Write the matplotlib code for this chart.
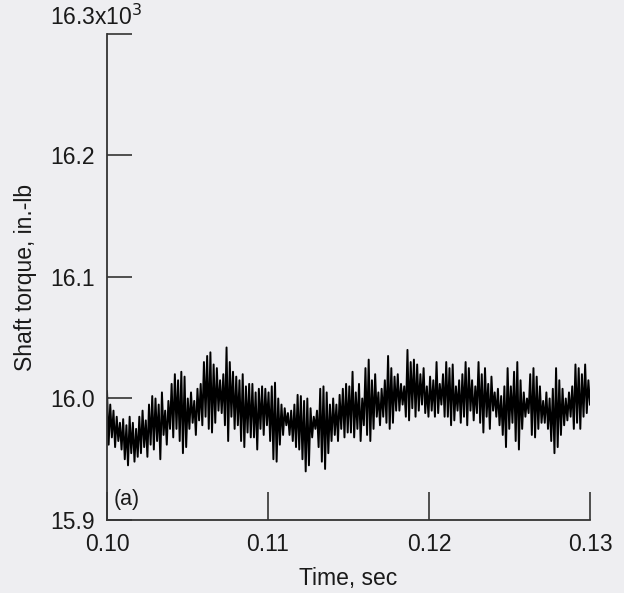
# Shaft torque vs time, figure (a)
import numpy as np
import matplotlib
matplotlib.use('Agg')
import matplotlib.pyplot as plt

plt.rcParams['font.family'] = ['Liberation Sans', 'DejaVu Sans']

# ---------------------------- data (torque in 10^3 in.-lb)
t_start = 0.100
t_end = 0.130

torque = [
    16.006, 15.962, 15.995, 15.968, 15.990, 15.960, 15.985, 15.965, 15.980, 15.958,
    15.983, 15.950, 15.978, 15.945, 15.985, 15.955, 15.980, 15.948, 15.975, 15.952,
    15.985, 15.955, 15.990, 15.960, 15.982, 15.952, 15.995, 15.962, 16.002, 15.958,
    16.000, 15.965, 15.995, 15.950, 16.005, 15.970, 15.990, 15.962, 15.998, 15.975,
    16.012, 15.968, 16.020, 15.975, 16.015, 15.965, 16.022, 15.955, 16.018, 15.960,
    16.000, 15.975, 16.005, 15.980, 15.998, 15.970, 16.008, 15.982, 16.012, 15.978,
    16.030, 15.985, 16.035, 15.975, 16.038, 15.972, 16.028, 15.980, 16.025, 15.990,
    16.015, 15.988, 16.020, 15.978, 16.042, 15.965, 16.030, 15.985, 16.022, 15.975,
    16.018, 15.978, 16.015, 15.965, 16.020, 15.960, 16.010, 15.972, 16.012, 15.968,
    16.012, 15.968, 16.005, 15.958, 16.008, 15.975, 16.010, 15.970, 16.008, 15.978,
    16.005, 15.965, 16.010, 15.950, 16.013, 15.948, 16.000, 15.962, 15.995, 15.970,
    15.992, 15.978, 15.988, 15.970, 15.990, 15.965, 15.995, 15.960, 16.003, 15.958,
    16.002, 15.950, 15.998, 15.940, 16.000, 15.945, 15.992, 15.968, 15.985, 15.975,
    15.990, 15.960, 16.008, 15.948, 16.010, 15.942, 16.005, 15.955, 15.995, 15.965,
    16.000, 15.970, 15.995, 15.965, 16.003, 15.975, 16.008, 15.968, 16.012, 15.972,
    16.010, 15.972, 16.022, 15.968, 16.005, 15.975, 16.012, 15.965, 16.000, 15.978,
    16.025, 15.970, 16.032, 15.965, 16.015, 15.975, 16.020, 15.985, 16.005, 15.978,
    16.008, 15.985, 16.015, 15.980, 16.035, 15.975, 16.025, 15.980, 16.018, 15.990,
    16.020, 15.990, 16.012, 15.995, 16.010, 15.985, 16.040, 15.982, 16.030, 15.992,
    16.032, 15.985, 16.028, 15.990, 16.020, 15.995, 16.025, 15.988, 16.010, 15.985,
    16.018, 15.990, 16.015, 15.985, 16.030, 15.988, 16.012, 15.995, 16.020, 15.985,
    16.030, 15.985, 16.025, 15.978, 16.028, 15.982, 16.010, 15.990, 16.015, 15.980,
    16.020, 15.985, 16.030, 15.978, 16.025, 15.990, 16.015, 15.982, 16.010, 15.988,
    16.030, 15.980, 16.020, 15.972, 16.025, 15.985, 16.012, 15.975, 16.018, 15.990,
    16.005, 15.985, 16.008, 15.978, 16.002, 15.970, 16.010, 15.960, 16.025, 15.975,
    16.010, 15.980, 16.022, 15.965, 16.030, 15.958, 16.015, 15.975, 16.005, 15.985,
    16.000, 15.988, 16.020, 15.970, 16.025, 15.968, 16.018, 15.975, 16.010, 15.980,
    15.998, 15.980, 16.005, 15.975, 16.000, 15.965, 16.008, 15.955, 16.025, 15.960,
    16.015, 15.970, 16.008, 15.978, 16.000, 15.982, 16.005, 15.985, 16.010, 15.975,
    16.028, 15.980, 16.025, 15.975, 16.020, 15.985, 16.028, 15.988, 16.015, 15.995,
]

x_ticks = [0.10, 0.11, 0.12, 0.13]
x_tick_labels = ['0.10', '0.11', '0.12', '0.13']
y_ticks = [15.9, 16.0, 16.1, 16.2, 16.3]
y_tick_labels = ['15.9', '16.0', '16.1', '16.2', '']

time = np.linspace(t_start, t_end, len(torque))

# ---------------------------- plot
bg = '#eeeef1'
ink = '#1a1a1a'
fs = 16.5
fig = plt.figure(figsize=(6.24, 5.93), dpi=100, facecolor=bg)
ax = fig.add_axes([0.1715, 0.1231, 0.774, 0.8196])
ax.set_facecolor(bg)

ax.plot(time, torque, color='black', lw=1.4)

ax.set_xlim(0.10, 0.13)
ax.set_ylim(15.9, 16.3)
ax.set_xticks(x_ticks)
ax.set_xticklabels(x_tick_labels)
ax.set_yticks(y_ticks)
ax.set_yticklabels(y_tick_labels)

for s in ['top', 'right']:
    ax.spines[s].set_visible(False)
for s in ['left', 'bottom']:
    ax.spines[s].set_color('#333333')
    ax.spines[s].set_linewidth(1.3)

ax.tick_params(axis='y', direction='in', length=18, width=1.2, color='#333333',
               labelsize=fs, labelcolor=ink, pad=9)
ax.tick_params(axis='x', direction='in', length=20, width=1.2, color='#333333',
               labelsize=fs, labelcolor=ink, pad=9)

# top label with the multiplier
ax.annotate('16.3x10$^3$', xy=(0.10, 16.3), xytext=(-11, 4), textcoords='offset pixels',
            ha='center', va='bottom', fontsize=fs, color=ink)

ax.text(0.1004, 15.917, '(a)', fontsize=15.5, color=ink, ha='left', va='center')

ax.set_xlabel('Time, sec', fontsize=fs, color=ink, labelpad=8)
ax.set_ylabel('Shaft torque, in.-lb', fontsize=fs, color=ink, labelpad=9)

fig.savefig('out.png', dpi=100, facecolor=bg)
